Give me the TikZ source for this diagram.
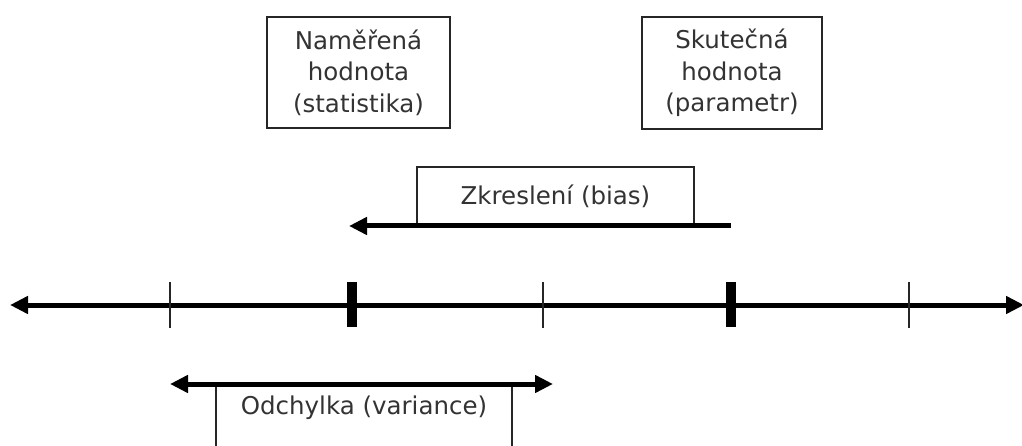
\documentclass[tikz,border=0pt]{standalone}
\usepackage{fontspec}
\setmainfont{DejaVu Sans}
\usetikzlibrary{arrows.meta}
\begin{document}
\begin{tikzpicture}[x=1pt,y=-1pt,
  lbl/.style={draw=black!85,line width=1.3pt,text=black!80,align=center,
    font=\fontsize{24.5}{31.5}\selectfont,inner sep=0pt},
  bigarrow/.style={line width=5pt,-{Triangle[length=18pt,width=17pt]}},
  twoarrow/.style={line width=5pt,{Triangle[length=18pt,width=17pt]}-{Triangle[length=18pt,width=17pt]}},
  thintick/.style={line width=1.3pt,draw=black!85},
  thicktick/.style={line width=10pt,draw=black}]
\clip (0,0) rectangle (1022,446);
\fill[white] (0,0) rectangle (1022,446);
% top boxes
\node[lbl,minimum width=183pt,minimum height=111pt] (meas) at (358.5,72.5) {Naměřená\\hodnota\\(statistika)};
\node[lbl,minimum width=180pt,minimum height=112pt] (true) at (732,73) {Skutečná\\hodnota\\(parametr)};
% bias
\node[lbl,minimum width=277pt,minimum height=59pt] (bias) at (555.5,196.5) {Zkreslení (bias)};
\coordinate (bs) at (731,226);
\coordinate (be) at (349,226);
\draw[bigarrow] (bs) -- (be);
% axis
\coordinate (al) at (10,305);
\coordinate (ar) at (1024,305);
\draw[twoarrow] (al) -- (ar);
\foreach \x in {170,543,909}{\draw[thintick] (\x,282) -- (\x,328);}
\foreach \x in {352,731}{\draw[thicktick] (\x,282) -- (\x,327);}
% variance
\node[lbl,minimum width=296pt,minimum height=120pt,anchor=north] (var) at (364,384) {};
\node[text=black!80,font=\fontsize{24.5}{31.5}\selectfont,anchor=center] (vartxt) at (364,408) {Odchylka (variance)};
\coordinate (vl) at (170,384);
\coordinate (vr) at (553,384);
\draw[twoarrow] (vl) -- (vr);
\end{tikzpicture}
\end{document}
